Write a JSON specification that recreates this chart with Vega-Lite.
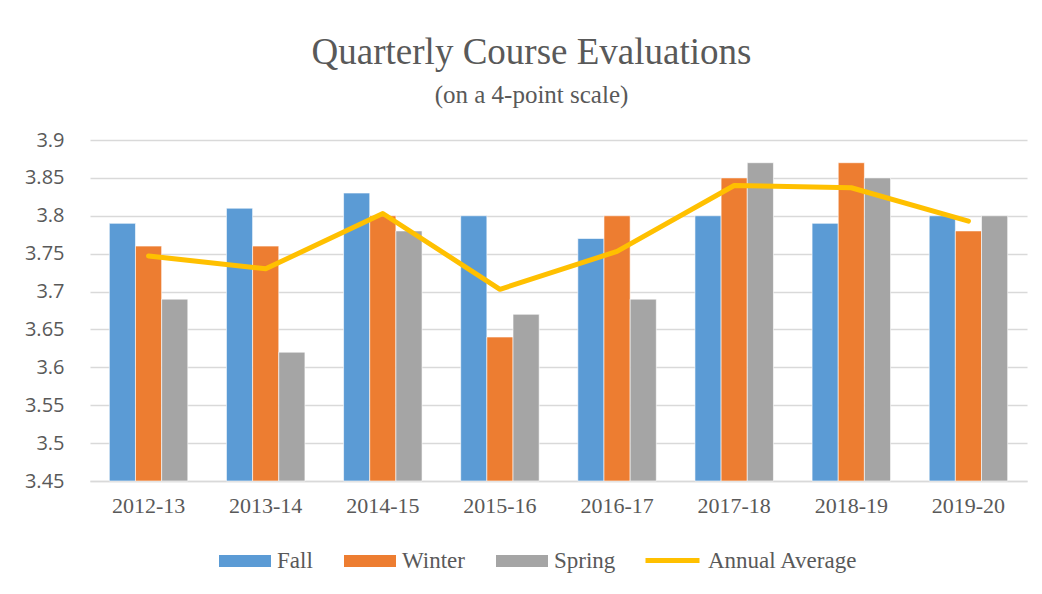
{
  "$schema": "https://vega.github.io/schema/vega-lite/v6.json",
  "width": 937,
  "height": 341,
  "autosize": {"type": "none"},
  "padding": {"left": 90, "top": 140, "right": 15, "bottom": 113},
  "background": "white",
  "config": {
    "view": {"stroke": null}
  },
  "title": {
    "text": "Quarterly Course Evaluations",
    "subtitle": "(on a 4-point scale)",
    "font": "Liberation Serif",
    "fontSize": 37,
    "fontWeight": "normal",
    "color": "#595959",
    "subtitleFont": "Liberation Serif",
    "subtitleFontSize": 25,
    "subtitleColor": "#595959",
    "subtitlePadding": 11,
    "anchor": "middle",
    "dx": -27,
    "offset": 21
  },
  "datasets": {
    "bars": [
      {"year": "2012-13", "season": "Fall", "score": 3.79},
      {"year": "2012-13", "season": "Winter", "score": 3.76},
      {"year": "2012-13", "season": "Spring", "score": 3.69},
      {"year": "2013-14", "season": "Fall", "score": 3.81},
      {"year": "2013-14", "season": "Winter", "score": 3.76},
      {"year": "2013-14", "season": "Spring", "score": 3.62},
      {"year": "2014-15", "season": "Fall", "score": 3.83},
      {"year": "2014-15", "season": "Winter", "score": 3.80},
      {"year": "2014-15", "season": "Spring", "score": 3.78},
      {"year": "2015-16", "season": "Fall", "score": 3.80},
      {"year": "2015-16", "season": "Winter", "score": 3.64},
      {"year": "2015-16", "season": "Spring", "score": 3.67},
      {"year": "2016-17", "season": "Fall", "score": 3.77},
      {"year": "2016-17", "season": "Winter", "score": 3.80},
      {"year": "2016-17", "season": "Spring", "score": 3.69},
      {"year": "2017-18", "season": "Fall", "score": 3.80},
      {"year": "2017-18", "season": "Winter", "score": 3.85},
      {"year": "2017-18", "season": "Spring", "score": 3.87},
      {"year": "2018-19", "season": "Fall", "score": 3.79},
      {"year": "2018-19", "season": "Winter", "score": 3.87},
      {"year": "2018-19", "season": "Spring", "score": 3.85},
      {"year": "2019-20", "season": "Fall", "score": 3.80},
      {"year": "2019-20", "season": "Winter", "score": 3.78},
      {"year": "2019-20", "season": "Spring", "score": 3.80}
    ],
    "avg": [
      {"year": "2012-13", "avg": 3.747},
      {"year": "2013-14", "avg": 3.730},
      {"year": "2014-15", "avg": 3.803},
      {"year": "2015-16", "avg": 3.703},
      {"year": "2016-17", "avg": 3.753},
      {"year": "2017-18", "avg": 3.840},
      {"year": "2018-19", "avg": 3.837},
      {"year": "2019-20", "avg": 3.793}
    ]
  },
  "encoding": {
    "x": {
      "field": "year",
      "type": "nominal",
      "title": null,
      "scale": {"paddingInner": 0.33, "paddingOuter": 0.165},
      "axis": {
        "labelAngle": 0,
        "labelFont": "Liberation Serif",
        "labelFontSize": 22,
        "labelColor": "#595959",
        "labelPadding": 14,
        "ticks": false,
        "domainColor": "#D9D9D9",
        "domainWidth": 1.5
      }
    }
  },
  "layer": [
    {
      "data": {"name": "bars"},
      "mark": {"type": "bar", "stroke": "white", "strokeWidth": 0.6},
      "encoding": {
        "xOffset": {"field": "season", "type": "nominal", "sort": ["Fall", "Winter", "Spring"]},
        "y": {
          "field": "score",
          "type": "quantitative",
          "title": null,
          "scale": {"domain": [3.45, 3.9], "zero": false, "nice": false},
          "axis": {
            "values": [3.45, 3.5, 3.55, 3.6, 3.65, 3.7, 3.75, 3.8, 3.85, 3.9],
            "tickCount": 20,
            "format": "~f",
            "labelOverlap": false,
            "labelFont": "Open Sans",
            "labelFontSize": 20,
            "labelColor": "#595959",
            "labelPadding": 26,
            "ticks": false,
            "domain": false,
            "grid": true,
            "gridColor": "#D9D9D9",
            "gridWidth": 1.5
          }
        },
        "y2": {"datum": 3.45},
        "color": {
          "field": "season",
          "type": "nominal",
          "scale": {"domain": ["Fall", "Winter", "Spring"], "range": ["#5B9BD5", "#ED7D31", "#A5A5A5"]},
          "legend": {
            "title": null,
            "orient": "none",
            "legendX": 129,
            "legendY": 395,
            "direction": "horizontal",
            "symbolType": "M-1,-0.23H1V0.23H-1Z",
            "symbolSize": 2704,
            "symbolStrokeWidth": 0,
            "labelFont": "Liberation Serif",
            "labelFontSize": 23,
            "labelColor": "#595959",
            "labelOffset": 6,
            "columnPadding": 31
          }
        }
      }
    },
    {
      "data": {"name": "avg"},
      "mark": {"type": "line", "strokeWidth": 5, "strokeCap": "round", "strokeJoin": "round"},
      "encoding": {
        "y": {"field": "avg", "type": "quantitative"},
        "stroke": {
          "datum": "Annual Average",
          "scale": {"range": ["#FFC000"]},
          "legend": {
            "title": null,
            "orient": "none",
            "legendX": 553,
            "legendY": 391,
            "direction": "horizontal",
            "symbolType": "stroke",
            "symbolSize": 2916,
            "symbolStrokeWidth": 5,
            "labelFont": "Liberation Serif",
            "labelFontSize": 23,
            "labelColor": "#595959",
            "labelOffset": 6
          }
        }
      }
    }
  ]
}
